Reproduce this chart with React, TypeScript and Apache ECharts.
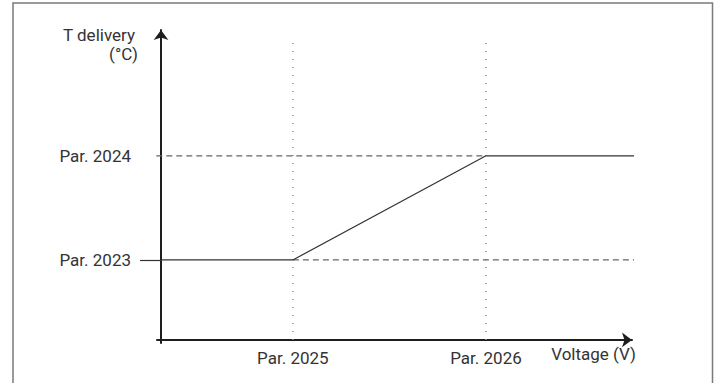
import React, { useEffect, useRef } from "react";
import * as echarts from "echarts";

// Abstract axis units (schematic chart)
const xTickLabels = ["Par. 2025", "Par. 2026"];
const xTickValues = [2.8, 6.9];
const yTickLabels = ["Par. 2023", "Par. 2024"];
const yTickValues = [2.58, 5.94];

// Delivery temperature curve
const curveX = [0, 2.8, 6.9, 10.1];
const curveY = [2.58, 2.58, 5.94, 5.94];

// Reference (dashed) levels
const lowRefX = [2.8, 10.1];
const highRefX = [-0.1, 6.9];

// Top of the dotted vertical guides
const guideTop = 9.7;

const FONT = "Roboto, 'Liberation Sans', sans-serif";
const FS = 17;

export default function App() {
  const ref = useRef<HTMLDivElement>(null);

  useEffect(() => {
    if (!ref.current) return;
    const chart = echarts.init(ref.current, null, { renderer: "svg" });

    const curve = curveX.map((x, i) => [x, curveY[i]]);
    const lowRef = lowRefX.map((x) => [x, yTickValues[0]]);
    const highRef = highRefX.map((x) => [x, yTickValues[1]]);

    const guides = xTickValues.map((x) => ({
      type: "line",
      data: [
        [x, 0],
        [x, guideTop],
      ],
      symbol: "none",
      silent: true,
      clip: false,
      lineStyle: { color: "#8a8a8a", width: 1.5, type: [1, 7] },
      z: 1,
    }));

    chart.setOption({
      animation: false,
      backgroundColor: "#ffffff",
      grid: {
        left: 157,
        right: 89,
        top: 30,
        bottom: 40,
        containLabel: false,
        outerBoundsMode: "none",
      },
      graphic: [
        {
          type: "rect",
          shape: { x: 13, y: 3, width: 699.5, height: 420 },
          style: { fill: "none", stroke: "#7a7a7a", lineWidth: 1.5 },
          silent: true,
          z: 0,
        },
      ],
      xAxis: {
        type: "value",
        min: -0.085,
        max: 10,
        splitLine: { show: false },
        axisTick: { show: false },
        axisLine: {
          show: true,
          onZero: true,
          symbol: ["none", "arrow"],
          symbolSize: [11, 10],
          lineStyle: { color: "#1e1e1e", width: 2 },
        },
        axisLabel: {
          customValues: xTickValues,
          formatter: (v: number) => {
            const i = xTickValues.findIndex((t) => Math.abs(t - v) < 1e-6);
            return i >= 0 ? xTickLabels[i] : "";
          },
          color: "#333",
          fontFamily: FONT,
          fontSize: FS,
          margin: 6,
        },
        name: "Voltage (V)",
        nameLocation: "end",
        nameGap: 4,
        nameTextStyle: {
          align: "right",
          verticalAlign: "top",
          padding: [6, 0, 0, 0],
          color: "#333",
          fontFamily: FONT,
          fontSize: FS,
        },
      },
      yAxis: {
        type: "value",
        min: -0.1,
        max: 10,
        splitLine: { show: false },
        axisTick: {
          show: true,
          customValues: [yTickValues[0]],
          inside: false,
          length: 21,
          lineStyle: { color: "#333", width: 1.2 },
        },
        axisLine: {
          show: true,
          onZero: true,
          symbol: ["none", "arrow"],
          symbolSize: [11, 10],
          lineStyle: { color: "#1e1e1e", width: 2 },
        },
        axisLabel: {
          customValues: yTickValues,
          formatter: (v: number) => {
            const i = yTickValues.findIndex((t) => Math.abs(t - v) < 1e-6);
            return i >= 0 ? yTickLabels[i] : "";
          },
          color: "#333",
          fontFamily: FONT,
          fontSize: FS,
          margin: 26,
        },
        name: "{a|T delivery}\n{b|(°C)}",
        nameLocation: "end",
        nameGap: 5,
        nameTextStyle: {
          align: "right",
          verticalAlign: "top",
          padding: [0, 23, 0, 0],
          color: "#333",
          fontFamily: FONT,
          fontSize: FS,
          lineHeight: 19,
          rich: {
            a: { fontFamily: FONT, fontSize: FS, color: "#333", lineHeight: 19, padding: [0, 3, 0, 0] },
            b: { fontFamily: FONT, fontSize: FS, color: "#333", lineHeight: 19 },
          },
        },
      },
      series: [
        ...guides,
        {
          type: "line",
          data: lowRef,
          symbol: "none",
          silent: true,
          clip: false,
          lineStyle: { color: "#666", width: 1.3, type: [6, 4] },
          z: 2,
        },
        {
          type: "line",
          data: highRef,
          symbol: "none",
          silent: true,
          clip: false,
          lineStyle: { color: "#666", width: 1.3, type: [6, 4] },
          z: 2,
        },
        {
          type: "line",
          data: curve,
          symbol: "none",
          silent: true,
          clip: false,
          lineStyle: { color: "#333", width: 1.2, type: "solid" },
          z: 3,
        },
      ],
    });

    return () => chart.dispose();
  }, []);

  return (
    <div
      ref={ref}
      style={{ position: "absolute", left: 0, top: 0, width: 721, height: 383 }}
    />
  );
}
